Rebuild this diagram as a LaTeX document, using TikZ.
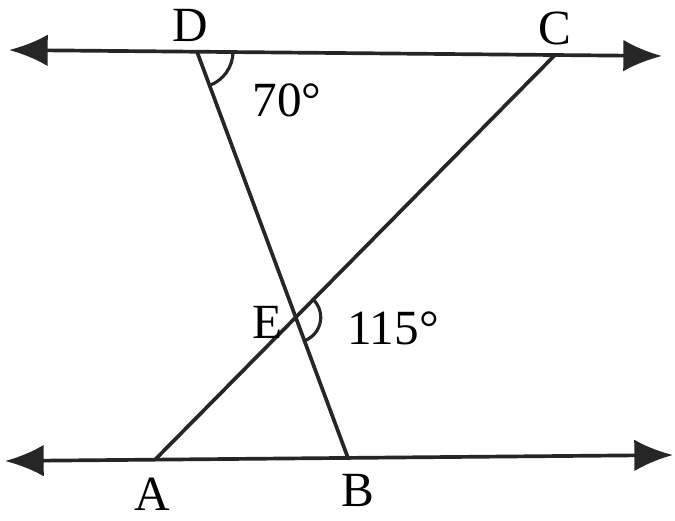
\documentclass[tikz,border=0pt]{standalone}
\usepackage{fontspec}
\setmainfont{Liberation Serif}
\usetikzlibrary{arrows.meta, angles, positioning}

\begin{document}
\begin{tikzpicture}[
    x=0.02cm, y=-0.02cm,
    line/.style={line width=2.1pt, draw=black!85},
    ray/.style={line, {Latex[length=22pt, width=18pt]}-{Latex[length=22pt, width=18pt]}},
    arc/.style={draw=black!85, line width=1.8pt},
    label/.style={font=\fontsize{28}{32}\selectfont, inner sep=0pt}
]
\useasboundingbox (0,0) rectangle (675,520);

% points on the two parallel lines
\coordinate (TL) at (9,50);
\coordinate (TR) at (662,56);
\coordinate (BL) at (5,461);
\coordinate (BR) at (673,455);
\coordinate (D) at (197,51.7);
\coordinate (C) at (555,55);
\coordinate (A) at (155,459.7);
\coordinate (B) at (348,458);
\coordinate (E) at (intersection of A--C and D--B);

\draw[ray] (TL) -- (TR);
\draw[ray] (BL) -- (BR);
\draw[line] (D) -- (B);
\draw[line] (A) -- (C);

% angle marks
\pic[arc, angle radius=0.72cm] {angle=B--D--C};
\pic[arc, angle radius=0.5cm] {angle=B--E--C};

\node[label] (labD) at (190,25) {D};
\node[label] (labC) at (555,28) {C};
\node[label] (labA) at (152,494) {A};
\node[label] (labB) at (358,490) {B};
\node[label] (labE) at (268,322) {E};
\node[label] (ang70) at (287,100) {70°};
\node[label] (ang115) at (393,328) {115°};
\end{tikzpicture}
\end{document}
